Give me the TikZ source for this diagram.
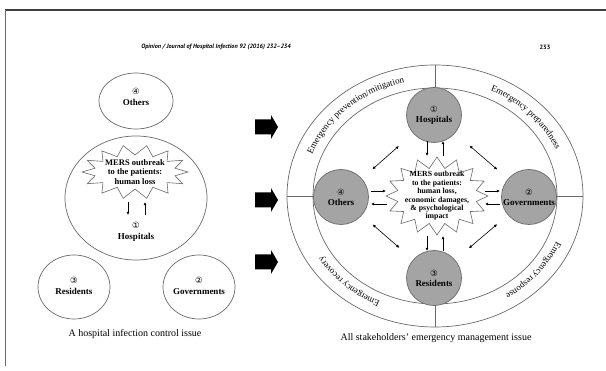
\documentclass[tikz,border=0pt]{standalone}
\usepackage{fontspec}
\setmainfont{Liberation Serif}
\newfontfamily\hdrfont{PT Sans}
\newfontfamily\circfont{DejaVu Sans}
\usetikzlibrary{arrows.meta,decorations.text,shapes.geometric,calc}
\definecolor{linegray}{HTML}{6A6A6A}
\definecolor{fillgray}{HTML}{A4A4A4}
\definecolor{framegray}{HTML}{404040}
\newcommand\cnum[1]{{\circfont\fontsize{8.5}{9}\selectfont\mdseries #1}}
\newcommand\ringfont{\fontsize{9}{10}\selectfont}
\newcommand\burstdraw[7]{%
  \draw[burstline] plot[samples=#7+1, domain=0:#7, variable=\k]
   ({#1+(#5+(#3-#5)*(1-mod(round(\k),2)))*cos(\k*360/#7)},
    {#2+(#6+(#4-#6)*(1-mod(round(\k),2)))*sin(\k*360/#7)}) -- cycle;}
\tikzset{
  ellL/.style={draw=linegray, line width=0.7pt, ellipse, inner sep=0pt},
  circR/.style={draw=linegray, fill=fillgray, line width=0.7pt, circle, inner sep=0pt,
     minimum size=55pt, align=center, font=\fontsize{9}{11}\selectfont\bfseries},
  lbl/.style={align=center, inner sep=0pt, font=\fontsize{9}{11}\selectfont\bfseries},
  bursttxtL/.style={align=center, inner sep=0pt, font=\fontsize{8.5}{9.3}\selectfont\bfseries},
  bursttxtR/.style={align=center, inner sep=0pt, font=\fontsize{7.8}{8.4}\selectfont\bfseries},
  burstline/.style={draw=linegray, line width=0.6pt, fill=white},
  caption/.style={inner sep=0pt, font=\fontsize{10}{12}\selectfont},
  hdr/.style={inner sep=0pt, font=\hdrfont\fontsize{6.2}{7}\selectfont\bfseries\itshape},
  ringline/.style={draw=linegray, line width=0.7pt},
  arr/.style={draw=black, line width=0.6pt, -{Latex[length=3.2pt,width=3pt]}},
  dbl/.style={draw=black, line width=0.6pt, {Latex[length=3.2pt,width=3pt]}-{Latex[length=3.2pt,width=3pt]}},
  blockarrow/.style={fill=black}
}
\begin{document}
\begin{tikzpicture}[x=1pt,y=1pt]
\useasboundingbox (0,0) rectangle (606,-371);
\fill[white] (0,0) rectangle (606,-371);
% frame
\draw[framegray, line width=1.8pt] (5,-10) -- (606,-10);
\draw[linegray, line width=0.8pt] (5,-10) -- (5,-366);
% header
\node[hdr] (hdr) at (216,-47) {Opinion / Journal of Hospital Infection 92 (2016) 232–234};
\node[hdr, font=\hdrfont\fontsize{6.2}{7}\selectfont\bfseries] (pg) at (545,-47) {233};

% ===== left diagram =====
\node[ellL, minimum width=74pt, minimum height=56pt] (othL) at (136,-101) {};
\node[lbl] (othLt) at (136,-97) {\cnum{④}\\Others};
\node[ellL, minimum width=142pt, minimum height=124pt] (hospL) at (136,-198) {};
\burstdraw{135}{-172}{53}{27}{41}{17}{28}
\node[bursttxtL] (burstL) at (135,-172) {MERS outbreak\\to the patients:\\human loss};
\node[lbl] (hospLt) at (136,-232) {\cnum{①}\\Hospitals};
\coordinate (la1) at (128,-202); \coordinate (la2) at (128,-215);
\coordinate (la3) at (145,-215); \coordinate (la4) at (145,-202);
\draw[arr] (la1) -- (la2);
\draw[arr] (la3) -- (la4);
\node[ellL, minimum width=72pt, minimum height=64pt] (resL) at (74,-287) {};
\node[lbl] (resLt) at (74,-286) {\cnum{③}\\Residents};
\node[ellL, minimum width=72pt, minimum height=64pt] (govL) at (199,-287) {};
\node[lbl] (govLt) at (199,-286) {\cnum{②}\\Governments};
\node[caption] (capL) at (135,-334) {A hospital infection control issue};

% ===== block arrows =====
\foreach \yy in {-127,-200,-262} {
  \fill[blockarrow] (255,{\yy+7.5}) -- (271,{\yy+7.5}) -- (271,{\yy+12}) -- (278,\yy)
     -- (271,{\yy-12}) -- (271,{\yy-7.5}) -- (255,{\yy-7.5}) -- cycle;
}

% ===== right diagram =====
\draw[ringline] (435,-196) ellipse [x radius=148, y radius=131];
\draw[ringline] (435,-196) ellipse [x radius=122, y radius=108];
\draw[ringline] (435,-65) -- (435,-88);
\draw[ringline] (435,-304) -- (435,-327);
\draw[ringline] (287,-196) -- (313,-196);
\draw[ringline] (557,-196) -- (583,-196);
% ring texts
\path[decorate, decoration={text along path, text align=center,
   text={|\ringfont|Emergency prevention/mitigation}}]
   (435,-196) ++(174:131.5 and 116.5) arc[start angle=174, end angle=90, x radius=131.5, y radius=116.5];
\path[decorate, decoration={text along path, text align=center,
   text={|\ringfont|Emergency preparedness}}]
   (435,-196) ++(85:131.5 and 116.5) arc[start angle=85, end angle=1, x radius=131.5, y radius=116.5];
\path[decorate, decoration={text along path, text align=center,
   text={|\ringfont|Emergency response}}]
   (435,-196) ++(2:131.5 and 116.5) arc[start angle=2, end angle=-80, x radius=131.5, y radius=116.5];
\path[decorate, decoration={text along path, text align=center,
   text={|\ringfont|Emergency recovery}}]
   (435,-196) ++(-92:131.5 and 116.5) arc[start angle=-92, end angle=-174, x radius=131.5, y radius=116.5];

% stakeholder circles
\node[circR] (hospR) at (434,-115) {\cnum{①}\\[-1pt]Hospitals};
\node[circR] (othR) at (341,-197) {\cnum{④}\\[-1pt]Others};
\node[circR] (govR) at (529,-197) {\cnum{②}\\[-1pt]Governments};
\node[circR] (resR) at (434,-278) {\cnum{③}\\[-1pt]Residents};

% central burst
\burstdraw{437}{-196}{51}{39}{40}{28}{32}
\node[bursttxtR] (burstR) at (437,-196) {MERS outbreak\\to the patients:\\human loss,\\economic damages,\\\& psychological\\impact};

% short arrows
\coordinate (h1) at (427,-141); \coordinate (h2) at (427,-156);
\coordinate (h3) at (443,-156); \coordinate (h4) at (443,-141);
\draw[arr] (h1) -- (h2); \draw[arr] (h3) -- (h4);
\coordinate (r1) at (427,-236); \coordinate (r2) at (427,-251);
\coordinate (r3) at (443,-251); \coordinate (r4) at (443,-236);
\draw[arr] (r1) -- (r2); \draw[arr] (r3) -- (r4);
\coordinate (o1) at (371,-191); \coordinate (o2) at (386,-191);
\coordinate (o3) at (387,-204); \coordinate (o4) at (371,-204);
\draw[arr] (o1) -- (o2); \draw[arr] (o3) -- (o4);
\coordinate (g1) at (485,-191); \coordinate (g2) at (500,-191);
\coordinate (g3) at (500,-204); \coordinate (g4) at (485,-204);
\draw[arr] (g1) -- (g2); \draw[arr] (g3) -- (g4);

% diagonal double arrows
\draw[dbl, shorten <=19pt, shorten >=14pt] (hospR) -- (othR);
\draw[dbl, shorten <=19pt, shorten >=14pt] (hospR) -- (govR);
\draw[dbl, shorten <=14pt, shorten >=18pt] (othR) -- (resR);
\draw[dbl, shorten <=14pt, shorten >=18pt] (govR) -- (resR);

\node[caption] (capR) at (436,-338) {All stakeholders' emergency management issue};
\end{tikzpicture}
\end{document}
